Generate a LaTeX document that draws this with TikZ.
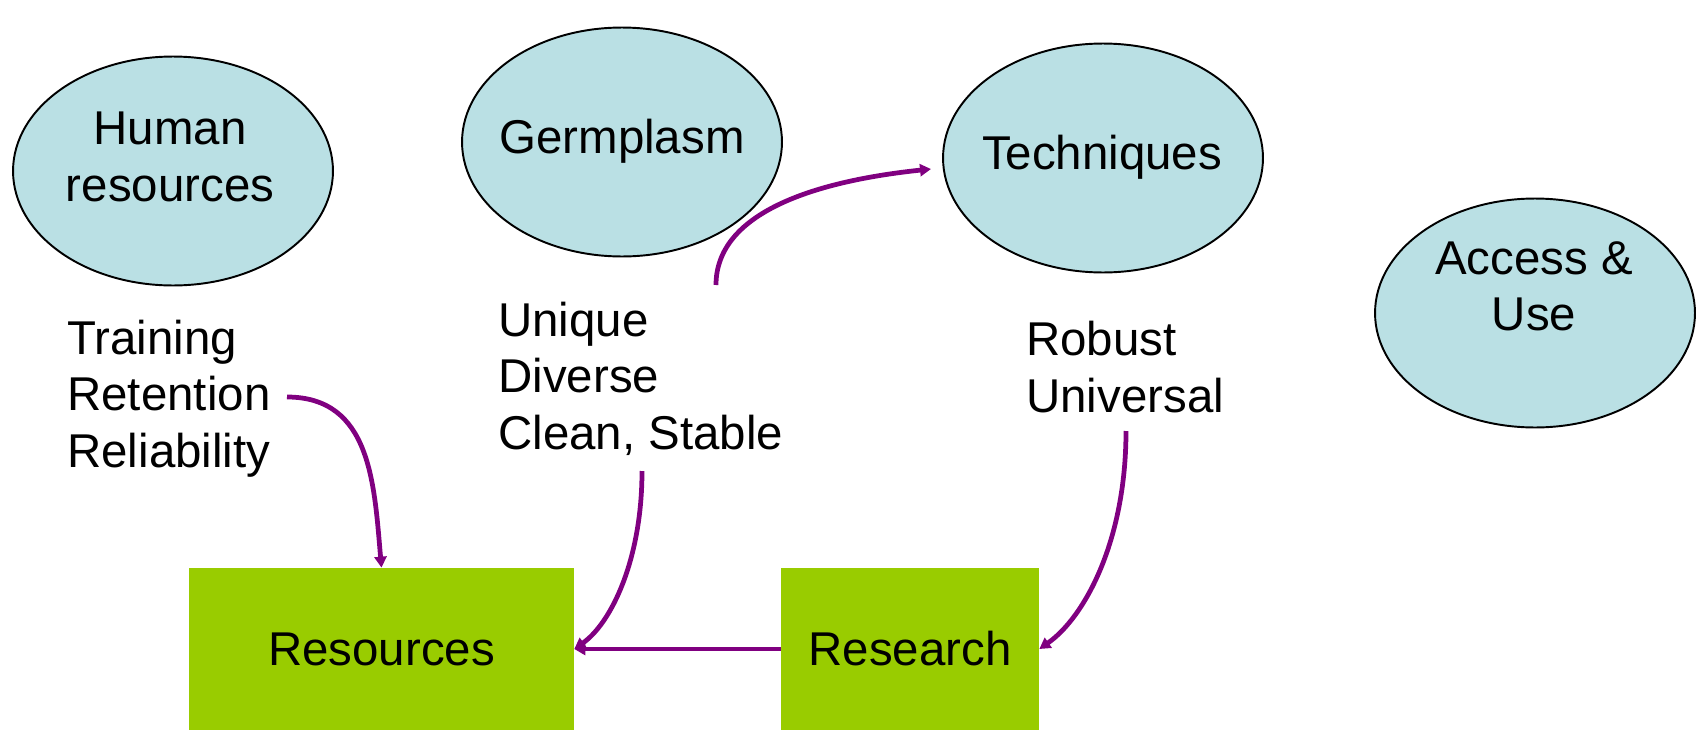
\documentclass[tikz,border=0pt]{standalone}
\usepackage{fontspec}
\setmainfont{Liberation Sans}
\usetikzlibrary{shapes.geometric}
\usetikzlibrary{positioning}
\usetikzlibrary{arrows.meta}
\definecolor{skyfill}{HTML}{BAE0E4}
\definecolor{leaf}{HTML}{99CC00}
\definecolor{plum}{HTML}{800080}
\tikzset{
    blob/.style = {ellipse, draw=black, line width=1.1pt, fill=skyfill, minimum width=6.4cm, minimum height=4.58cm, inner sep=0pt},
    box/.style = {rectangle, fill=leaf, minimum width=7.7cm, minimum height=3.24cm, inner sep=0pt},
    boxs/.style = {rectangle, fill=leaf, minimum width=5.16cm, minimum height=3.24cm, inner sep=0pt},
    words/.style = {align=left, inner sep=0pt, anchor=base west},
    inwords/.style = {align=center, inner sep=0pt},
    edgep/.style = {-{Triangle[length=0.22cm,width=0.24cm]}, line width=2.7pt, plum},
    every picture/.style={font issue=\fontsize{27}{32}},
    font issue/.style={execute at begin picture={#1\selectfont}
  }
}

\begin{document}
\begin{tikzpicture}[x=0.02cm,y=-0.02cm]
\useasboundingbox (0,0) rectangle (1697,730);
\node[blob] at (173,171) (hr) {};
\node[blob] at (622,142) (gp) {};
\node[blob] at (1103,158) (tq) {};
\node[blob] at (1535,313) (au) {};
\node[inwords] at (170,157) (hrt) {Human\\resources};
\node[inwords] at (622,141) (gpt) {Germplasm};
\node[inwords] at (1102,157) (tqt) {Techniques};
\node[inwords] at (1534,286) (aut) {Access \&\\Use};
% last baselines
\node[words] at (67,467) (trn) {Training\\Retention\\Reliability};
\node[words] at (498,449) (unq) {Unique\\Diverse\\Clean, Stable};
\node[words] at (1026,412) (rob) {Robust\\Universal};
%
\node[box] at (381.5,649) (res) {Resources};
\node[boxs] at (910,649) (rsc) {Research};
%
\coordinate (c1) at (287,397);
\coordinate (c2) at (642,471);
\coordinate (c3) at (716,285);
\coordinate (c4) at (931,169);
\coordinate (c5) at (1126,431);
%
\draw[edgep] (c1) to[out=0,in=95,looseness=1.1] (res.north);
\draw[edgep] (c2) to[out=-90,in=35,out looseness=1.2,in looseness=0.6] (res.east);
\draw[edgep] (rsc.west) -- (res.east);
\draw[edgep] (c3) to[out=90,in=186,out looseness=0.75,in looseness=1.25] (c4);
\draw[edgep] (c5) to[out=-90,in=35,out looseness=1.2,in looseness=0.6] (rsc.east);
\end{tikzpicture}
\end{document}
